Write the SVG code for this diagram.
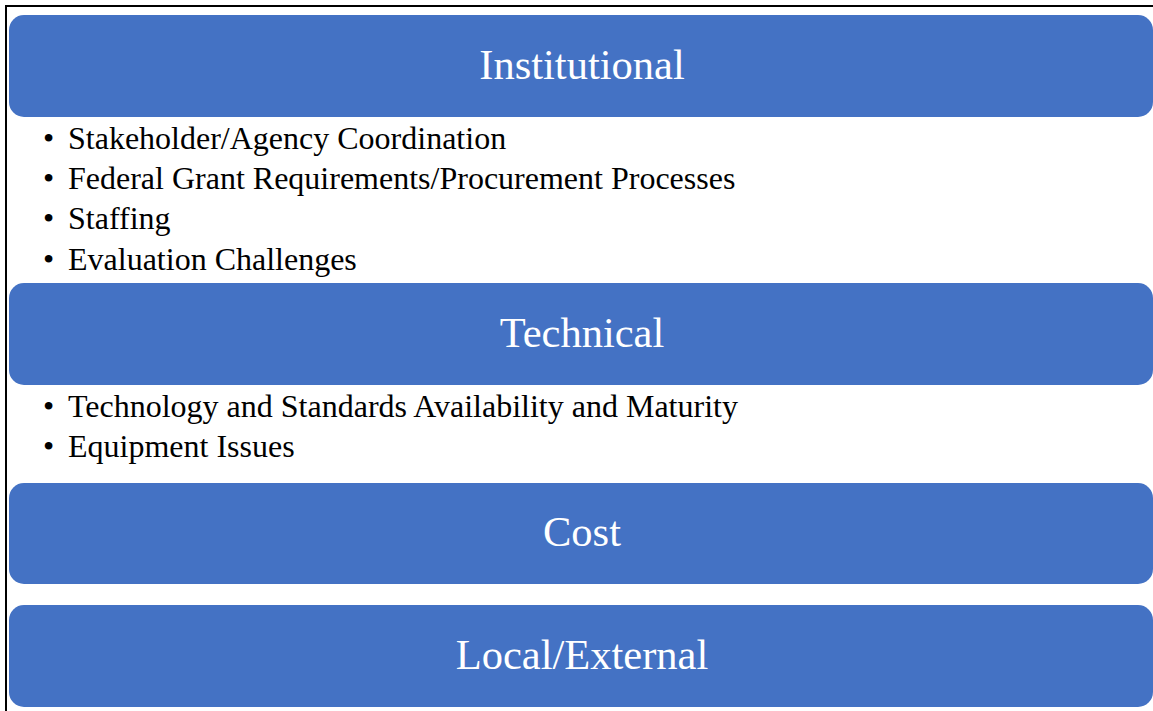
<svg xmlns="http://www.w3.org/2000/svg" width="1153" height="711" viewBox="0 0 1153 711">
<style>
.box{fill:#4472C4;}
.title{font-family:"Liberation Serif","Times New Roman",serif;font-size:42.5px;fill:#ffffff;text-anchor:middle;}
.item{font-family:"Liberation Serif","Times New Roman",serif;font-size:32px;fill:#000000;}
</style>
<rect x="0" y="0" width="1153" height="711" fill="#ffffff"/>
<rect x="6" y="6" width="1170" height="730" fill="none" stroke="#000000" stroke-width="2"/>
<g id="institutional">
<rect class="box" x="9" y="15" width="1144" height="102" rx="15" ry="15"/>
<text class="title" x="582" y="79">Institutional</text>
</g>
<g id="institutional-items">
<text class="item" x="43" y="149">•</text><text class="item" x="68" y="149">Stakeholder/Agency Coordination</text>
<text class="item" x="43" y="189">•</text><text class="item" x="68" y="189">Federal Grant Requirements/Procurement Processes</text>
<text class="item" x="43" y="229">•</text><text class="item" x="68" y="229">Staffing</text>
<text class="item" x="43" y="270">•</text><text class="item" x="68" y="270">Evaluation Challenges</text>
</g>
<g id="technical">
<rect class="box" x="9" y="283" width="1144" height="102" rx="15" ry="15"/>
<text class="title" x="582" y="347">Technical</text>
</g>
<g id="technical-items">
<text class="item" x="43" y="417">•</text><text class="item" x="68" y="417">Technology and Standards Availability and Maturity</text>
<text class="item" x="43" y="457">•</text><text class="item" x="68" y="457">Equipment Issues</text>
</g>
<g id="cost">
<rect class="box" x="9" y="483" width="1144" height="101" rx="15" ry="15"/>
<text class="title" x="582" y="546">Cost</text>
</g>
<g id="local-external">
<rect class="box" x="9" y="605" width="1144" height="102" rx="15" ry="15"/>
<text class="title" x="582" y="669">Local/External</text>
</g>
<g id="connectors"></g>
</svg>
